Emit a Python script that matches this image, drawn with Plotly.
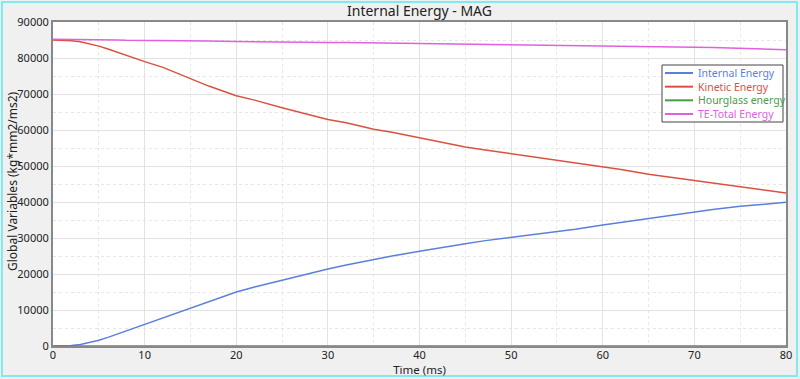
import plotly.graph_objects as go

time_ms = [0, 1, 2, 3, 4, 5, 6, 7, 8, 9, 10, 12, 15, 17, 20, 22, 25, 27, 30, 32, 35, 37, 40, 42, 45, 47, 50, 52, 55, 57, 60, 62, 65, 67, 70, 72, 75, 77, 80]
internal = [0, 50, 150, 400, 900, 1600, 2400, 3300, 4300, 5200, 6100, 7800, 10500, 12300, 15000, 16400, 18300, 19500, 21400, 22500, 24100, 25000, 26300, 27200, 28400, 29200, 30100, 30700, 31700, 32400, 33600, 34300, 35500, 36200, 37300, 37900, 38800, 39200, 39900]
kinetic = [85000, 85000, 84800, 84500, 84000, 83300, 82500, 81600, 80700, 79800, 79000, 77400, 74200, 72200, 69500, 68300, 66200, 64900, 62900, 62000, 60200, 59400, 57800, 56800, 55300, 54500, 53400, 52800, 51600, 50900, 49700, 49000, 47700, 47000, 46000, 45400, 44400, 43600, 42500]
hourglass = [0] * len(time_ms)
total = [85200, 85200, 85100, 85100, 85000, 85000, 85000, 85000, 84900, 84900, 84900, 84900, 84800, 84700, 84600, 84500, 84400, 84400, 84300, 84300, 84200, 84200, 84000, 84000, 83900, 83900, 83800, 83800, 83700, 83600, 83500, 83400, 83300, 83200, 83000, 82900, 82600, 82500, 82300]

series_names = ["Internal Energy", "Kinetic Energy", "Hourglass energy", "TE-Total Energy"]
series_values = [internal, kinetic, hourglass, total]
series_colors = ["#5b7fdc", "#dc5040", "#4a9a4a", "#e060e0"]

fig = go.Figure()
for name, vals, col in zip(series_names, series_values, series_colors):
    fig.add_trace(go.Scatter(
        x=time_ms, y=vals, mode="lines",
        line=dict(color=col, width=1.5),
        name=name, showlegend=False,
    ))

fig.update_layout(
    width=800, height=379,
    margin=dict(l=53, r=14, t=22, b=33),
    paper_bgcolor="#f0f0f0",
    plot_bgcolor="white",
    font=dict(family="Noto Sans", size=11, color="#222"),
    title=dict(text="Internal Energy - MAG", xref="paper", x=0.5, xanchor="center",
               yref="container", y=0.971, yanchor="middle",
               font=dict(size=14, color="#222")),
    showlegend=False,
)
fig.update_xaxes(
    range=[0, 80], dtick=10, tick0=0, automargin=False,
    showline=True, linecolor="#888", linewidth=2, mirror=True,
    gridcolor="#e2e2e2", gridwidth=1,
    minor=dict(dtick=5, showgrid=True, gridcolor="#e6e6e6", griddash="dot"),
    ticks="", ticklabelstandoff=-2,
    zeroline=False,
    title=dict(text="Time (ms)", standoff=0, font=dict(size=11.5)),
)
fig.update_yaxes(
    range=[0, 90000], dtick=10000, tick0=0, tickformat="d", automargin=False,
    showline=True, linecolor="#888", linewidth=2, mirror=True,
    gridcolor="#e2e2e2", gridwidth=1,
    minor=dict(dtick=5000, showgrid=True, gridcolor="#e6e6e6", griddash="dot"),
    ticks="",
    zeroline=False,
)
fig.add_shape(type="rect", xref="paper", yref="paper",
              x0=-0.0696, x1=1.015, y0=-0.0926, y1=1.0617,
              line=dict(color="#80eaf2", width=2), layer="below")


def py(p):
    return (346 - p) / 324


def px(p):
    return (p - 53) / 733


# y-axis title
fig.add_annotation(xref="paper", yref="paper", x=px(12), y=py(181),
                   xanchor="center", yanchor="middle", showarrow=False,
                   textangle=-90, text="Global Variables (kg*mm2/ms2)",
                   font=dict(size=12, color="#222"))

# manual legend (box, sample lines, one multi-line coloured text)
fig.add_shape(type="rect", xref="paper", yref="paper",
              x0=px(662), x1=px(783), y0=py(122), y1=py(65),
              line=dict(color="#444", width=1), fillcolor="white", layer="above")
line_h = 13.65
center = 93.5
entry_px = [center + (i - 1.5) * line_h for i in range(4)]
for col, ep in zip(series_colors, entry_px):
    fig.add_shape(type="line", xref="paper", yref="paper",
                  x0=px(665), x1=px(693), y0=py(ep), y1=py(ep),
                  line=dict(color=col, width=2), layer="above")
legend_text = "<br>".join(
    f"<span style='color:{c}'>{n}</span>" for n, c in zip(series_names, series_colors)
)
fig.add_annotation(xref="paper", yref="paper", x=px(696), y=py(center),
                   xanchor="left", yanchor="middle", showarrow=False, align="left",
                   text=legend_text, font=dict(size=10.5, color="#222"))

fig.write_html("out.html", config={"displayModeBar": False},
               post_script="document.body.style.margin='0';document.body.style.overflow='hidden';")
